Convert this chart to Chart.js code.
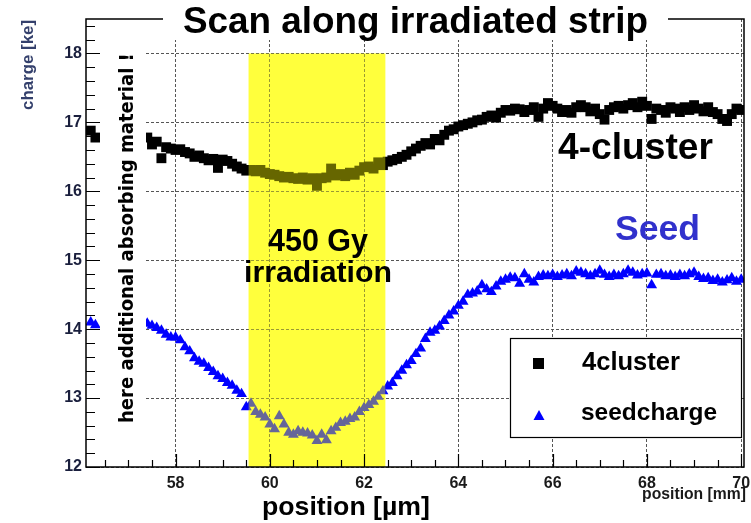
<!DOCTYPE html>
<html lang="en">
<head>
<meta charset="UTF-8">
<title>Scan along irradiated strip</title>
<script src="https://cdn.jsdelivr.net/npm/chart.js@4.4.0/dist/chart.umd.min.js"></script>
<style>
  html, body { margin: 0; padding: 0; background: #fff; }
  canvas { display: block; }
</style>
</head>
<body>
<canvas id="chart" width="751" height="523"></canvas>
<script>
    // scan positions [mm]
    const positions = [
        56.2, 56.3,
        57.4, 57.5, 57.6, 57.7, 57.8, 57.9,
        58.0, 58.1, 58.2, 58.3, 58.4, 58.5, 58.6, 58.7, 58.8, 58.9,
        59.0, 59.1, 59.2, 59.3, 59.4, 59.5, 59.6, 59.7, 59.8, 59.9,
        60.0, 60.1, 60.2, 60.3, 60.4, 60.5, 60.6, 60.7, 60.8, 60.9,
        61.0, 61.1, 61.2, 61.3, 61.4, 61.5, 61.6, 61.7, 61.8, 61.9,
        62.0, 62.1, 62.2, 62.3, 62.4, 62.5, 62.6, 62.7, 62.8, 62.9,
        63.0, 63.1, 63.2, 63.3, 63.4, 63.5, 63.6, 63.7, 63.8, 63.9,
        64.0, 64.1, 64.2, 64.3, 64.4, 64.5, 64.6, 64.7, 64.8, 64.9,
        65.0, 65.1, 65.2, 65.3, 65.4, 65.5, 65.6, 65.7, 65.8, 65.9,
        66.0, 66.1, 66.2, 66.3, 66.4, 66.5, 66.6, 66.7, 66.8, 66.9,
        67.0, 67.1, 67.2, 67.3, 67.4, 67.5, 67.6, 67.7, 67.8, 67.9,
        68.0, 68.1, 68.2, 68.3, 68.4, 68.5, 68.6, 68.7, 68.8, 68.9,
        69.0, 69.1, 69.2, 69.3, 69.4, 69.5, 69.6, 69.7, 69.8, 69.9,
        70.0
    ];

    // 4-strip cluster charge [ke]
    const cluster4 = [
        16.88, 16.78,
        16.78, 16.68, 16.72, 16.48, 16.64, 16.62,
        16.60, 16.61, 16.57, 16.55, 16.50, 16.52, 16.48, 16.45, 16.47, 16.34,
        16.46, 16.44, 16.40, 16.36, 16.33, 16.30, 16.31, 16.29, 16.31, 16.27,
        16.25, 16.24, 16.22, 16.20, 16.21, 16.19, 16.18, 16.20, 16.17, 16.19,
        16.08, 16.19, 16.20, 16.33, 16.23, 16.25, 16.22, 16.27, 16.24, 16.30,
        16.35, 16.36, 16.33, 16.42, 16.38, 16.43, 16.45, 16.47, 16.50, 16.53,
        16.58, 16.62, 16.66, 16.70, 16.68, 16.76, 16.74, 16.82, 16.88, 16.90,
        16.94, 16.96, 16.98, 17.00, 17.03, 17.04, 17.08, 17.10, 17.07, 17.14,
        17.18, 17.17, 17.20, 17.19, 17.15, 17.18, 17.22, 17.08, 17.20, 17.28,
        17.24, 17.20, 17.15, 17.18, 17.14, 17.22, 17.25, 17.22, 17.16, 17.20,
        17.12, 17.04, 17.18, 17.22, 17.24, 17.20, 17.25, 17.28, 17.22, 17.30,
        17.24, 17.05, 17.20, 17.18, 17.14, 17.22, 17.20, 17.15, 17.22, 17.18,
        17.25, 17.20, 17.16, 17.22, 17.15, 17.12, 17.05, 17.02, 17.12, 17.20,
        17.18
    ];

    // seed strip charge [ke]
    const seedcharge = [
        14.10, 14.06,
        14.08, 14.05, 14.02, 13.98, 13.92, 13.88,
        13.88, 13.84, 13.74, 13.68, 13.58, 13.53, 13.50, 13.44, 13.38, 13.32,
        13.28, 13.22, 13.18, 13.11, 13.06, 12.87, 12.92, 12.80, 12.76, 12.72,
        12.62, 12.55, 12.74, 12.62, 12.50, 12.47, 12.52, 12.50, 12.49, 12.46,
        12.38, 12.47, 12.39, 12.52, 12.57, 12.64, 12.66, 12.70, 12.72, 12.80,
        12.86, 12.90, 12.95, 13.02, 13.10, 13.17, 13.22, 13.32, 13.40, 13.48,
        13.54, 13.64, 13.72, 13.86, 13.95, 13.98, 14.04, 14.12, 14.20, 14.26,
        14.34, 14.40, 14.50, 14.52, 14.55, 14.64, 14.58, 14.54, 14.62, 14.69,
        14.72, 14.75, 14.74, 14.66, 14.80, 14.72, 14.68, 14.76, 14.78, 14.77,
        14.79, 14.76, 14.78, 14.80, 14.77, 14.84, 14.82, 14.80, 14.77, 14.80,
        14.85, 14.79, 14.76, 14.79, 14.77, 14.80, 14.85, 14.82, 14.78, 14.80,
        14.81, 14.64, 14.79, 14.80, 14.77, 14.78, 14.76, 14.79, 14.77, 14.80,
        14.82, 14.76, 14.73, 14.74, 14.70, 14.72, 14.68, 14.71, 14.74, 14.69,
        14.72
    ];

    const xTickLabels = [58, 60, 62, 64, 66, 68, 70];
    const yTickLabels = [12, 13, 14, 15, 16, 17, 18];
    const irradiated = [59.55, 62.45];   // 450 Gy region
    const irradiatedTop = 18;

    const SANS = '"Liberation Sans", Arial, sans-serif';

    // pick a font size so the text has the wanted width
    function fitFont(ctx, text, weight, family, width) {
        ctx.font = weight + ' 100px ' + family;
        const size = 100 * width / ctx.measureText(text).width;
        ctx.font = weight + ' ' + size.toFixed(2) + 'px ' + family;
    }

    function label(ctx, text, x, y, width, color, family, weight) {
        fitFont(ctx, text, weight || 'bold', family || SANS, width);
        ctx.fillStyle = color;
        ctx.textAlign = 'left';
        ctx.textBaseline = 'alphabetic';
        ctx.fillText(text, x, y);
    }

    const decorations = {
        id: 'decorations',
        beforeDraw(chart) {
            const {ctx, scales: {x, y}} = chart;
            const x0 = x.getPixelForValue(irradiated[0]);
            const x1 = x.getPixelForValue(irradiated[1]);
            const y0 = y.getPixelForValue(irradiatedTop);
            const y1 = y.getPixelForValue(y.min);
            ctx.save();
            ctx.fillStyle = '#ffff64';
            ctx.fillRect(x0, y0, x1 - x0, y1 - y0);
            ctx.restore();
        },
        afterDatasetsDraw(chart) {
            const {ctx, chartArea, scales: {x, y}} = chart;
            ctx.save();
            // yellow band is see-through over the points
            const x0 = x.getPixelForValue(irradiated[0]);
            const x1 = x.getPixelForValue(irradiated[1]);
            const y0 = y.getPixelForValue(irradiatedTop);
            ctx.fillStyle = 'rgba(255,255,0,0.4)';
            ctx.fillRect(x0, y0, x1 - x0, chartArea.bottom - y0);

            // note on the left, on its own white box
            ctx.fillStyle = '#fff';
            ctx.fillRect(100, chartArea.top + 1, 46, chartArea.bottom - chartArea.top - 2);
            ctx.translate(133, 423);
            ctx.rotate(-Math.PI / 2);
            label(ctx, 'here additional absorbing material !', 0, 0, 370, '#000',
                  '"DejaVu Sans Condensed", "DejaVu Sans", sans-serif', 'bold');
            ctx.restore();
        },
        afterDraw(chart) {
            const {ctx, chartArea: a, scales: {x, y}} = chart;
            ctx.save();
            // frame
            ctx.strokeStyle = '#000';
            ctx.lineWidth = 1.5;
            ctx.strokeRect(a.left, a.top, a.right - a.left, a.bottom - a.top);
            // tick marks on the inside
            ctx.lineWidth = 1.2;
            ctx.beginPath();
            for (let v = 12; v <= 18.41; v += 0.2) {
                const py = Math.round(y.getPixelForValue(v)) + 0.5;
                const major = Math.abs(v - Math.round(v)) < 0.01;
                ctx.moveTo(a.left, py);
                ctx.lineTo(a.left + (major ? 14 : 9), py);
            }
            for (let v = 56.5; v <= 70.01; v += 0.5) {
                const px = Math.round(x.getPixelForValue(v)) + 0.5;
                const major = Math.abs(v % 2) < 0.01;
                ctx.moveTo(px, a.bottom);
                ctx.lineTo(px, a.bottom - (major ? 13 : 7));
            }
            ctx.stroke();

            // axis titles
            ctx.save();
            ctx.translate(28, 20);
            ctx.rotate(-Math.PI / 2);
            fitFont(ctx, 'charge [ke]', 'bold', SANS, 90);
            ctx.fillStyle = '#34406c';
            ctx.textAlign = 'right';
            ctx.textBaseline = 'middle';
            ctx.fillText('charge [ke]', 0, 0);
            ctx.restore();

            fitFont(ctx, 'position [mm]', 'bold', SANS, 104);
            ctx.fillStyle = '#1a1a1a';
            ctx.textAlign = 'right';
            ctx.textBaseline = 'alphabetic';
            ctx.fillText('position [mm]', 746, 499);

            label(ctx, 'position [\u00b5m]', 262, 515, 168, '#000');

            // title over the top of the frame
            ctx.fillStyle = '#fff';
            ctx.fillRect(163, 0, 505, 40);
            label(ctx, 'Scan along irradiated strip', 183, 33, 465, '#000');

            // texts inside the plot
            label(ctx, '4-cluster', 558, 159, 155, '#000');
            label(ctx, 'Seed', 615, 240, 85, '#3131cc');
            label(ctx, '450 Gy', 268, 251, 100, '#000');
            label(ctx, 'irradiation', 244, 282, 148, '#000');

            // legend box
            ctx.fillStyle = '#fff';
            ctx.fillRect(510, 338, 232, 99);
            ctx.lineWidth = 1.2;
            ctx.strokeRect(510.5, 338.5, 231, 99);
            const ds = chart.data.datasets;
            ctx.fillStyle = ds[0].backgroundColor;
            ctx.fillRect(533, 358, 11, 11);
            ctx.fillStyle = ds[1].backgroundColor;
            ctx.beginPath();
            ctx.moveTo(539, 410);
            ctx.lineTo(544.5, 420);
            ctx.lineTo(533.5, 420);
            ctx.closePath();
            ctx.fill();
            label(ctx, ds[0].label, 582, 370, 98, '#000');
            label(ctx, ds[1].label, 581, 420, 136, '#000');
            ctx.restore();
        }
    };

    const ctx = document.getElementById('chart').getContext('2d');
    const chart = new Chart(ctx, {
        type: 'scatter',
        data: {
            datasets: [{
                label: '4cluster',
                data: positions.map((p, i) => ({x: p, y: cluster4[i]})),
                pointStyle: 'rect',
                pointRadius: 7,
                pointBorderWidth: 0,
                backgroundColor: '#000000',
                borderColor: '#000000'
            }, {
                label: 'seedcharge',
                data: positions.map((p, i) => ({x: p, y: seedcharge[i]})),
                pointStyle: 'triangle',
                pointRadius: 6.3,
                pointBorderWidth: 0,
                backgroundColor: '#0000ff',
                borderColor: '#0000ff'
            }]
        },
        options: {
            responsive: false,
            animation: false,
            layout: { padding: { left: 0, top: 19, right: 4, bottom: 0 } },
            plugins: {
                legend: { display: false },
                tooltip: { enabled: false }
            },
            scales: {
                x: {
                    type: 'linear',
                    min: 56.1,
                    max: 70.06,
                    afterBuildTicks: axis => { axis.ticks = xTickLabels.map(v => ({value: v})); },
                    afterFit: axis => { axis.height = 56; axis.paddingLeft = 0; axis.paddingRight = 0; },
                    ticks: {
                        padding: 7,
                        color: '#1a1a1a',
                        font: { family: SANS, size: 16, weight: 'bold' },
                        maxRotation: 0
                    },
                    grid: { drawTicks: false, color: '#555', lineWidth: 1 },
                    border: { display: false, dash: [3, 2] }
                },
                y: {
                    min: 12,
                    max: 18.5,
                    afterBuildTicks: axis => { axis.ticks = yTickLabels.map(v => ({value: v})); },
                    afterFit: axis => { axis.width = 86; axis.paddingTop = 0; axis.paddingBottom = 0; },
                    ticks: {
                        padding: 4,
                        color: '#1a1f3d',
                        font: { family: SANS, size: 16, weight: 'bold' }
                    },
                    grid: { drawTicks: false, color: '#555', lineWidth: 1 },
                    border: { display: false, dash: [3, 2] }
                }
            }
        },
        plugins: [decorations]
    });
</script>
</body>
</html>
